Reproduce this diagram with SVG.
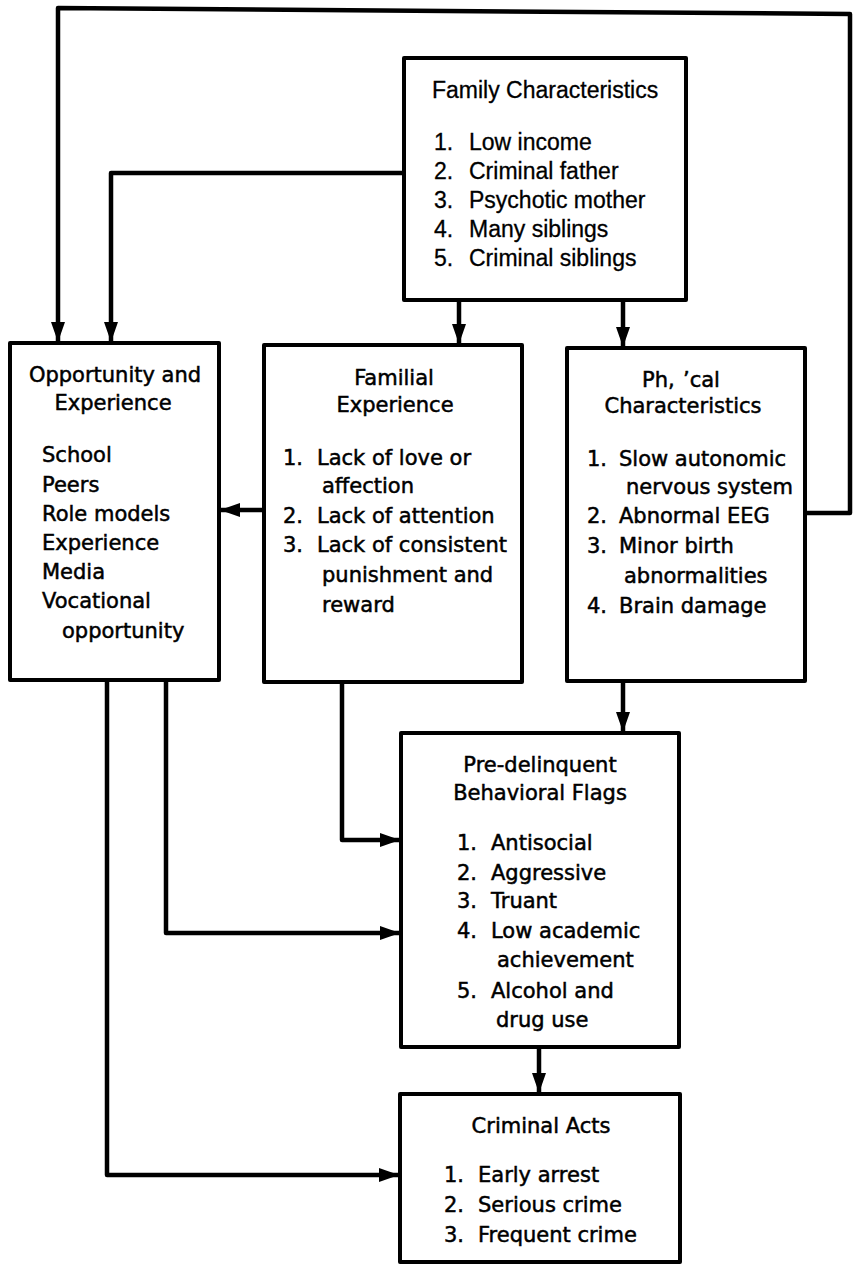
<svg xmlns="http://www.w3.org/2000/svg" width="857" height="1265" viewBox="0 0 857 1265">
<style>
.box{fill:#fff;stroke:#000;stroke-width:4;stroke-linejoin:round}
.con{fill:none;stroke:#000;stroke-width:4.5;stroke-linejoin:round}
.t{font-family:"DejaVu Sans","Liberation Sans",sans-serif;font-size:21px;fill:#000;stroke:#000;stroke-width:0.5}
.tf{font-family:"Liberation Sans",Arial,sans-serif;font-size:23px;fill:#000;stroke:#000;stroke-width:0.3}
.c{text-anchor:middle}
</style>
<defs>
<marker id="ah" markerUnits="userSpaceOnUse" markerWidth="20" markerHeight="14" refX="19" refY="7" orient="auto">
<path d="M0,0 L20,7 L0,14 z" fill="#000"/>
</marker>
</defs>
<rect width="857" height="1265" fill="#fff"/>
<g id="connectors">
<path class="con" d="M805,513 H850 V14 L58,8 V341" marker-end="url(#ah)"/>
<path class="con" d="M404,173 H111 V341" marker-end="url(#ah)"/>
<path class="con" d="M459,300 V343" marker-end="url(#ah)"/>
<path class="con" d="M623,300 V346" marker-end="url(#ah)"/>
<path class="con" d="M264,510 H221" marker-end="url(#ah)"/>
<path class="con" d="M342,682 V840 H399" marker-end="url(#ah)"/>
<path class="con" d="M166,680 V933 H399" marker-end="url(#ah)"/>
<path class="con" d="M107,680 V1175 H398" marker-end="url(#ah)"/>
<path class="con" d="M623,681 V731" marker-end="url(#ah)"/>
<path class="con" d="M539,1047 V1092" marker-end="url(#ah)"/>
</g>
<g id="family">
<rect class="box" x="404" y="58" width="282" height="242"/>
<text class="tf" x="432" y="98">Family Characteristics</text>
<text class="tf" x="434" y="150">1.</text><text class="tf" x="469" y="150">Low income</text>
<text class="tf" x="434" y="179">2.</text><text class="tf" x="469" y="179">Criminal father</text>
<text class="tf" x="434" y="208">3.</text><text class="tf" x="469" y="208">Psychotic mother</text>
<text class="tf" x="434" y="237">4.</text><text class="tf" x="469" y="237">Many siblings</text>
<text class="tf" x="434" y="266">5.</text><text class="tf" x="469" y="266">Criminal siblings</text>
</g>
<g id="opportunity">
<rect class="box" x="10" y="343" width="209" height="337"/>
<text class="t c" x="115" y="382">Opportunity and</text>
<text class="t c" x="113" y="410">Experience</text>
<text class="t" x="42" y="462">School</text>
<text class="t" x="42" y="492">Peers</text>
<text class="t" x="42" y="521">Role models</text>
<text class="t" x="42" y="550">Experience</text>
<text class="t" x="42" y="579">Media</text>
<text class="t" x="42" y="608">Vocational</text>
<text class="t" x="62" y="638">opportunity</text>
</g>
<g id="familial">
<rect class="box" x="264" y="345" width="258" height="337"/>
<text class="t c" x="394" y="385">Familial</text>
<text class="t c" x="395" y="412">Experience</text>
<text class="t" x="283" y="465">1.</text><text class="t" x="317" y="465">Lack of love or</text>
<text class="t" x="322" y="493">affection</text>
<text class="t" x="283" y="523">2.</text><text class="t" x="317" y="523">Lack of attention</text>
<text class="t" x="283" y="552">3.</text><text class="t" x="317" y="552">Lack of consistent</text>
<text class="t" x="322" y="582">punishment and</text>
<text class="t" x="322" y="612">reward</text>
</g>
<g id="physical">
<rect class="box" x="567" y="348" width="238" height="333"/>
<text class="t" x="642" y="387">Ph,<tspan x="683">’cal</tspan></text>
<text class="t c" x="683" y="413">Characteristics</text>
<text class="t" x="587" y="466">1.</text><text class="t" x="619" y="466">Slow autonomic</text>
<text class="t" x="626" y="494">nervous system</text>
<text class="t" x="587" y="523">2.</text><text class="t" x="619" y="523">Abnormal EEG</text>
<text class="t" x="587" y="553">3.</text><text class="t" x="619" y="553">Minor birth</text>
<text class="t" x="624" y="583">abnormalities</text>
<text class="t" x="587" y="613">4.</text><text class="t" x="619" y="613">Brain damage</text>
</g>
<g id="predelinquent">
<rect class="box" x="401" y="733" width="278" height="314"/>
<text class="t c" x="540" y="772">Pre-delinquent</text>
<text class="t c" x="540" y="800">Behavioral Flags</text>
<text class="t" x="457" y="850">1.</text><text class="t" x="491" y="850">Antisocial</text>
<text class="t" x="457" y="880">2.</text><text class="t" x="491" y="880">Aggressive</text>
<text class="t" x="457" y="908">3.</text><text class="t" x="491" y="908">Truant</text>
<text class="t" x="457" y="938">4.</text><text class="t" x="491" y="938">Low academic</text>
<text class="t" x="497" y="967">achievement</text>
<text class="t" x="457" y="998">5.</text><text class="t" x="491" y="998">Alcohol and</text>
<text class="t" x="496" y="1027">drug use</text>
</g>
<g id="criminal">
<rect class="box" x="400" y="1094" width="280" height="168"/>
<text class="t c" x="541" y="1133">Criminal Acts</text>
<text class="t" x="444" y="1182">1.</text><text class="t" x="478" y="1182">Early arrest</text>
<text class="t" x="444" y="1212">2.</text><text class="t" x="478" y="1212">Serious crime</text>
<text class="t" x="444" y="1242">3.</text><text class="t" x="478" y="1242">Frequent crime</text>
</g>
</svg>
